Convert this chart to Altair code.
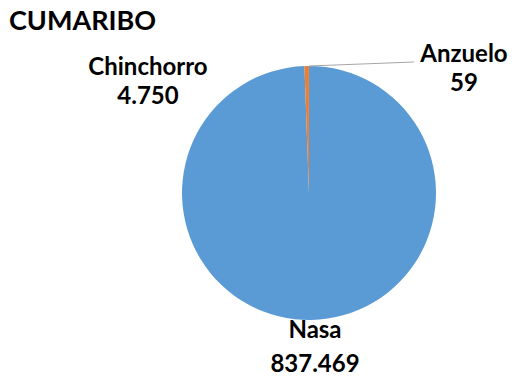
import altair as alt
import pandas as pd

# ---- data ----
categories = ["Nasa", "Chinchorro", "Anzuelo"]
values = [837469, 4750, 59]
colors = ["#5B9BD5", "#ED7D31", "#A5A5A5"]
title_text = "CUMARIBO"

df = pd.DataFrame({"category": categories, "value": values, "order": list(range(len(categories)))})

# ---- layout / style ----
W, H = 524, 381
CX, CY, R = 309, 193, 127
FONT = "Lato"
LABEL_SIZE = 24
# center x, name baseline, value baseline
label_pos = {
    "Chinchorro": (148, 75, 104),
    "Anzuelo": (464, 62, 91),
    "Nasa": (315, 338, 372),
}

base = alt.Chart(df)

pie = base.mark_arc(outerRadius=R).encode(
    x=alt.value(CX),
    y=alt.value(CY),
    theta=alt.Theta("value:Q", stack=True),
    order=alt.Order("order:Q"),
    color=alt.Color("category:N", scale=alt.Scale(domain=categories, range=colors), legend=None),
)

leader = base.transform_filter(alt.datum.category == "Anzuelo").mark_rule(
    color="#A6A6A6", strokeWidth=1.2
).encode(x=alt.value(309), y=alt.value(66), x2=alt.value(414), y2=alt.value(62))

layers = [pie, leader]
for cat, (lx, ny, vy) in label_pos.items():
    sub = base.transform_filter(alt.datum.category == cat).transform_calculate(
        vlabel="replace(format(datum.value, ','), ',', '.')"
    )
    layers.append(
        sub.mark_text(font=FONT, fontSize=LABEL_SIZE, fontWeight="bold", color="black",
                      align="center", baseline="alphabetic").encode(
            x=alt.value(lx), y=alt.value(ny), text="category:N")
    )
    layers.append(
        sub.mark_text(font=FONT, fontSize=LABEL_SIZE, fontWeight="bold", color="black",
                      align="center", baseline="alphabetic").encode(
            x=alt.value(lx), y=alt.value(vy), text="vlabel:N")
    )

title = base.transform_filter(alt.datum.order == 0).mark_text(
    font=FONT, fontSize=27, fontWeight="bold", color="black", align="left", baseline="alphabetic"
).encode(x=alt.value(9), y=alt.value(30), text=alt.value(title_text))
layers.append(title)

chart = alt.layer(*layers).properties(
    width=W, height=H, padding=0, autosize=alt.AutoSizeParams(type="none"), background="white"
).configure_view(stroke=None)

chart.save("out.html", embed_options={"renderer": "svg", "actions": False})
